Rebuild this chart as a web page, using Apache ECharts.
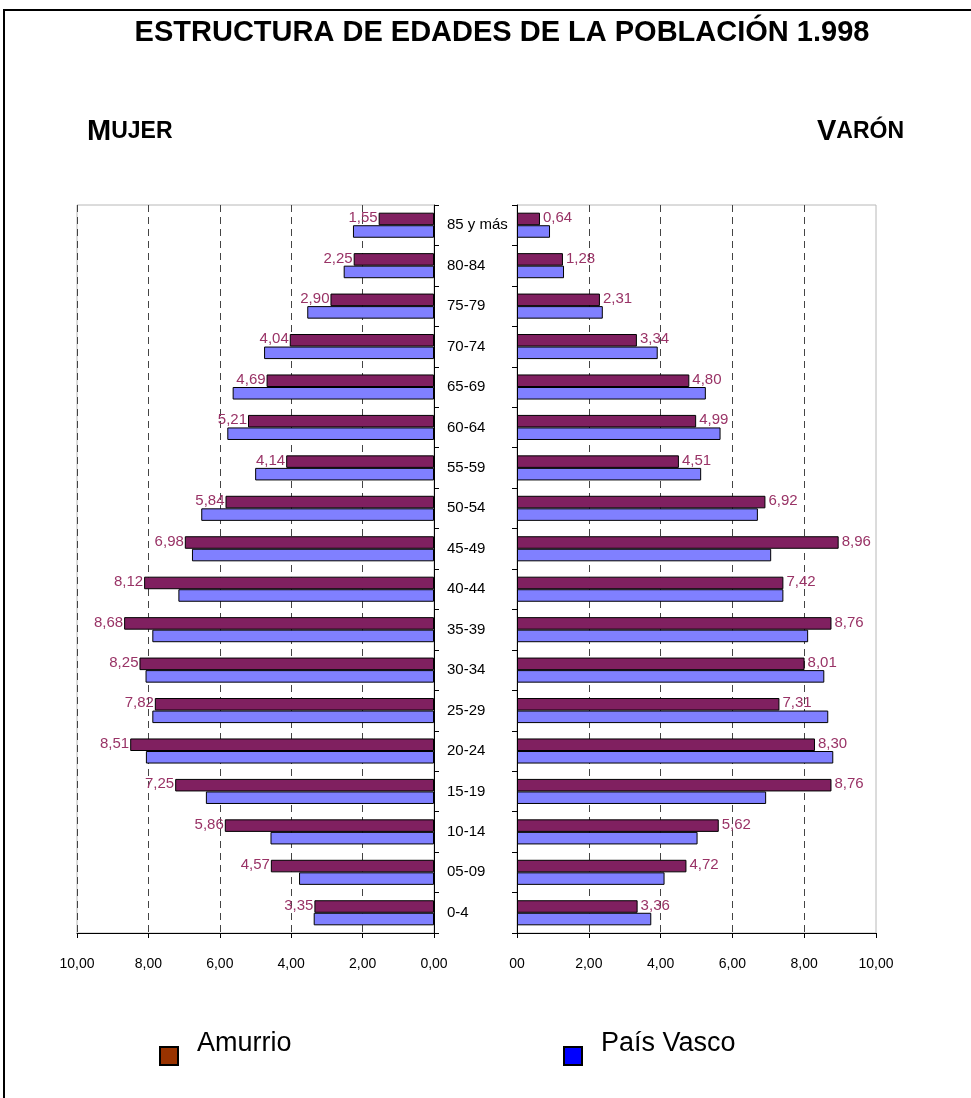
<!DOCTYPE html>
<html>
<head>
<meta charset="utf-8">
<script src="https://cdn.jsdelivr.net/npm/echarts@6/dist/echarts.min.js"></script>
<style>
  html, body { margin: 0; padding: 0; background: #fff; }
  #chart { width: 971px; height: 1098px; }
</style>
</head>
<body>
<div id="chart"></div>
<script>
// ---- data (bottom to top) ----
var categories = ['0-4','05-09','10-14','15-19','20-24','25-29','30-34','35-39','40-44','45-49','50-54','55-59','60-64','65-69','70-74','75-79','80-84','85 y más'];
var mujerAmurrio = [3.35,4.57,5.86,7.25,8.51,7.82,8.25,8.68,8.12,6.98,5.84,4.14,5.21,4.69,4.04,2.90,2.25,1.55];
var mujerPaisVasco = [3.37,3.78,4.58,6.39,8.07,7.89,8.08,7.89,7.16,6.78,6.52,5.01,5.79,5.64,4.76,3.55,2.53,2.27];
var varonAmurrio = [3.36,4.72,5.62,8.76,8.30,7.31,8.01,8.76,7.42,8.96,6.92,4.51,4.99,4.80,3.34,2.31,1.28,0.64];
var varonPaisVasco = [3.74,4.11,5.03,6.94,8.81,8.67,8.56,8.11,7.42,7.08,6.71,5.13,5.67,5.26,3.92,2.39,1.31,0.92];
var leftTickLabels = ['0,00','2,00','4,00','6,00','8,00','10,00'];
var rightTickLabels = ['00','2,00','4,00','6,00','8,00','10,00'];
var legendNames = ['Amurrio', 'País Vasco'];
var legendColors = ['#993300', '#0000FF'];

var FONT = "'Liberation Sans', Arial, sans-serif";
var C_AM = '#802060', C_PV = '#8080FF', C_LBL = '#993366';

function fmt(v) { return v.toFixed(2).replace('.', ','); }

var chart = echarts.init(document.getElementById('chart'), null, { renderer: 'canvas' });

function xAxisCfg(grid, inverse, labels) {
  return {
    type: 'value', gridIndex: grid, min: 0, max: 10, interval: 2, inverse: inverse,
    axisLine: { show: true, lineStyle: { color: '#000', width: 1 } },
    axisTick: { show: true, length: 5, lineStyle: { color: '#000' } },
    axisLabel: { margin: 24, fontFamily: FONT, fontSize: 14, color: '#000',
      formatter: function (v) { return labels[Math.round(v / 2)]; } },
    splitLine: { show: true, showMinLine: false, showMaxLine: inverse,
      lineStyle: { color: '#444', type: [7, 5], width: 1 } }
  };
}

function barSeries(name, data, xi, color, withLabel, side) {
  return {
    name: name, type: 'bar', xAxisIndex: xi, yAxisIndex: xi, data: data,
    barGap: '0%', barCategoryGap: '38%',
    itemStyle: { color: color, borderColor: '#000', borderWidth: 1 },
    label: withLabel ? {
      show: true, position: side, distance: side === 'left' ? 1 : 3,
      offset: [0, -1],
      fontFamily: FONT, fontSize: 15, color: C_LBL,
      formatter: function (p) { return fmt(p.value); }
    } : { show: false },
    animation: false
  };
}

var legendGraphics = [];
var legendX = [160, 564];
for (var i = 0; i < legendNames.length; i++) {
  legendGraphics.push({ type: 'rect', silent: true,
    shape: { x: legendX[i], y: 1047, width: 18, height: 18 },
    style: { fill: legendColors[i], stroke: '#000', lineWidth: 2 } });
  legendGraphics.push({ type: 'text', silent: true, x: legendX[i] + 37, y: 1044,
    style: { text: legendNames[i], fontFamily: FONT, fontSize: 27, fill: '#000',
      verticalAlign: 'middle', align: 'left' } });
}

var option = {
  backgroundColor: '#fff',
  animation: false,
  title: [
    { text: 'ESTRUCTURA DE EDADES DE LA POBLACIÓN 1.998', left: 497, top: 13, textAlign: 'center',
      textStyle: { fontFamily: FONT, fontSize: 29, fontWeight: 'bold', color: '#000' } },
    { text: '{a|M}{b|UJER}', left: 82, top: 112,
      textStyle: { rich: {
        a: { fontFamily: FONT, fontSize: 29, fontWeight: 'bold', color: '#000' },
        b: { fontFamily: FONT, fontSize: 23, fontWeight: 'bold', color: '#000' } } } },
    { text: '{a|V}{b|ARÓN}', right: 62, top: 112,
      textStyle: { rich: {
        a: { fontFamily: FONT, fontSize: 29, fontWeight: 'bold', color: '#000' },
        b: { fontFamily: FONT, fontSize: 23, fontWeight: 'bold', color: '#000' } } } }
  ],
  graphic: [
    { type: 'rect', silent: true, z: -1,
      shape: { x: 4, y: 10, width: 990, height: 1100 },
      style: { fill: 'none', stroke: '#000', lineWidth: 2 } }
  ].concat(legendGraphics),
  grid: [
    { left: 77, top: 205, width: 357, height: 728, show: true, borderColor: '#b8b8b8', borderWidth: 1, backgroundColor: 'transparent' },
    { left: 517, top: 205, width: 359, height: 728, show: true, borderColor: '#b8b8b8', borderWidth: 1, backgroundColor: 'transparent' }
  ],
  xAxis: [ xAxisCfg(0, true, leftTickLabels), xAxisCfg(1, false, rightTickLabels) ],
  yAxis: [
    { type: 'category', gridIndex: 0, position: 'right', data: categories,
      axisLine: { show: true, lineStyle: { color: '#000' } },
      axisTick: { show: true, length: 5, lineStyle: { color: '#000' } },
      axisLabel: { show: true, align: 'left', margin: 13, fontFamily: FONT, fontSize: 15, color: '#000' },
      splitLine: { show: false } },
    { type: 'category', gridIndex: 1, position: 'left', data: categories,
      axisLine: { show: true, lineStyle: { color: '#000' } },
      axisTick: { show: true, length: 5, lineStyle: { color: '#000' } },
      axisLabel: { show: false },
      splitLine: { show: false } }
  ],
  series: [
    barSeries('Amurrio', mujerAmurrio, 0, C_AM, true, 'left'),
    barSeries('País Vasco', mujerPaisVasco, 0, C_PV, false, 'left'),
    barSeries('Amurrio', varonAmurrio, 1, C_AM, true, 'right'),
    barSeries('País Vasco', varonPaisVasco, 1, C_PV, false, 'right')
  ]
};
chart.setOption(option);
</script>
</body>
</html>
